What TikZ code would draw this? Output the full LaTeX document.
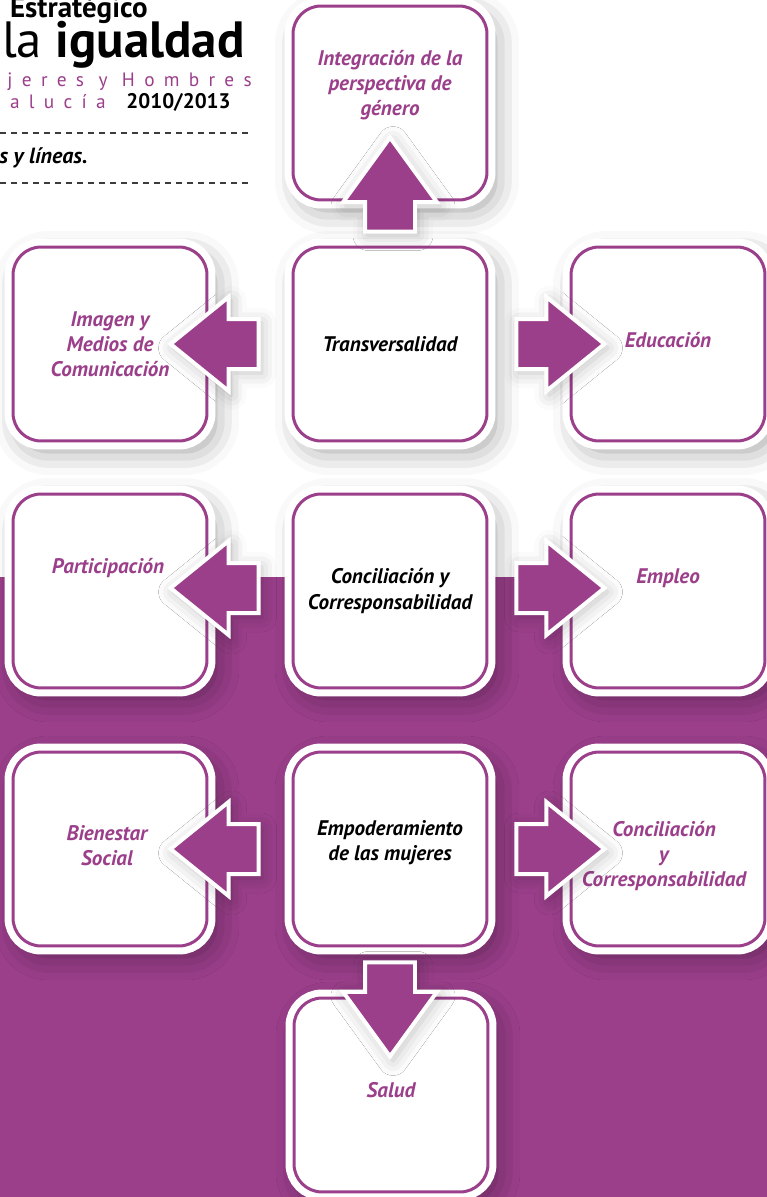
\documentclass[tikz,border=0pt]{standalone}
\usepackage{fontspec}
\setmainfont{PT Sans}
\usetikzlibrary{shapes.arrows,calc,shadows.blur}
\definecolor{plum}{RGB}{155,63,139}
\definecolor{dashgray}{RGB}{60,60,60}
\tikzset{
  box/.style={rectangle, rounded corners=0.56cm, minimum width=3.88cm, minimum height=3.88cm,
    blur shadow={shadow xshift=0.14cm, shadow yshift=-0.18cm, shadow blur radius=0.5cm, shadow opacity=40},
    preaction={draw=white, line width=0.34cm}, fill=white, draw=plum, line width=0.06cm},
  lbl/.style={font=\fontsize{12}{14.3}\selectfont\bfseries\itshape, align=center, text=plum},
  mainlbl/.style={lbl, text=black},
  blkarrow/.style={single arrow, fill=plum, draw=white, line width=0.08cm, inner xsep=0pt, inner ysep=0.46cm,
    single arrow head extend=0.44cm, single arrow tip angle=78, minimum height=1.76cm, anchor=tail,
    blur shadow={shadow xshift=0.06cm, shadow yshift=-0.08cm, shadow blur radius=0.3cm, shadow opacity=25}},
  vertarrow/.style={blkarrow, single arrow tip angle=72, minimum height=1.88cm},
  dashrule/.style={dashgray, line width=0.04cm, dash pattern=on 0.12cm off 0.1cm},
  spaced/.style={text=plum, font=\fontsize{11}{12}\selectfont\addfontfeatures{LetterSpace=48}}
}
\begin{document}
\begin{tikzpicture}[x=0.02cm, y=-0.02cm]
    \useasboundingbox (0,0) rectangle (767,1197);
    \clip (0,0) rectangle (767,1197);
    % purple band behind the lower rows
    \fill[plum] (0,577) rectangle (767,1197);

    % header, cut at the left edge
    \node[anchor=base east, inner sep=0, font=\fontsize{16.5}{18}\selectfont\bfseries] (hd1) at (148,17) {Estratégico};
    \node[anchor=base east, inner sep=0, font=\fontsize{29}{33}\selectfont] (hd2) at (245,57) {la \textbf{igualdad}};
    \node[anchor=base east, inner sep=0, spaced] (hd3) at (252,86) {Mujeres y Hombres};
    \node[anchor=base east, inner sep=0, spaced] (hd4) at (106,108) {Andalucía};
    \node[anchor=base east, inner sep=0, font=\fontsize{12}{14}\selectfont\bfseries] (hd5) at (231,108) {2010/2013};
    \coordinate (r1a) at (0,133); \coordinate (r1b) at (250,133);
    \coordinate (r2a) at (0,183); \coordinate (r2b) at (250,183);
    \draw[dashrule] (r1a) -- (r1b);
    \draw[dashrule] (r2a) -- (r2b);
    \node[anchor=base east, inner sep=0, font=\fontsize{12.5}{14}\selectfont\bfseries\itshape] (hd6) at (88,163) {s y líneas.};

    % boxes
    \node[box] (int) at (390,103) {};
    \node[box] (img) at (110,344) {};
    \node[box] (tra) at (390,344) {};
    \node[box] (edu) at (668,344) {};
    \node[box] (par) at (110,591) {};
    \node[box] (con) at (390,591) {};
    \node[box] (emp) at (668,591) {};
    \node[box] (bie) at (110,849) {};
    \node[box] (empo) at (390,849) {};
    \node[box] (cor) at (668,849) {};
    \node[box] (sal) at (391,1095) {};

    % labels
    \node[lbl] (l-int) at ($(int)+(0,-18)$) {Integración de la\\perspectiva de\\género};
    \node[lbl] (l-img) at (img) {Imagen y\\Medios de\\Comunicación};
    \node[mainlbl] (l-tra) at (tra) {Transversalidad};
    \node[lbl] (l-edu) at ($(edu)+(0,-4)$) {Educación};
    \node[lbl] (l-par) at ($(par)+(-2,-23)$) {Participación};
    \node[mainlbl] (l-con) at (con) {Conciliación y\\Corresponsabilidad};
    \node[lbl] (l-emp) at ($(emp)+(0,-13)$) {Empleo};
    \node[lbl] (l-bie) at ($(bie)+(-3,-3)$) {Bienestar\\Social};
    \node[mainlbl] (l-empo) at ($(empo)+(0,-6)$) {Empoderamiento\\de las mujeres};
    \node[lbl] (l-cor) at ($(cor)+(-4,7)$) {Conciliación\\y\\Corresponsabilidad};
    \node[lbl] (l-sal) at ($(sal)+(0,-5)$) {Salud};

    % block arrows out of the middle column
    \node[vertarrow, rotate=90] (a-int) at ($(tra.north)+(0,-12)$) {};
    \node[blkarrow, rotate=180] (a-img) at ($(tra.west)+(-31,0)$) {};
    \node[blkarrow] (a-edu) at ($(tra.east)+(26,0)$) {};
    \node[blkarrow, rotate=180] (a-par) at ($(con.west)+(-31,-3)$) {};
    \node[blkarrow] (a-emp) at ($(con.east)+(26,-3)$) {};
    \node[blkarrow, rotate=180] (a-bie) at ($(empo.west)+(-31,0)$) {};
    \node[blkarrow] (a-cor) at ($(empo.east)+(26,0)$) {};
    \node[vertarrow, rotate=-90] (a-sal) at ($(empo.south)+(0,13)$) {};
\end{tikzpicture}
\end{document}
